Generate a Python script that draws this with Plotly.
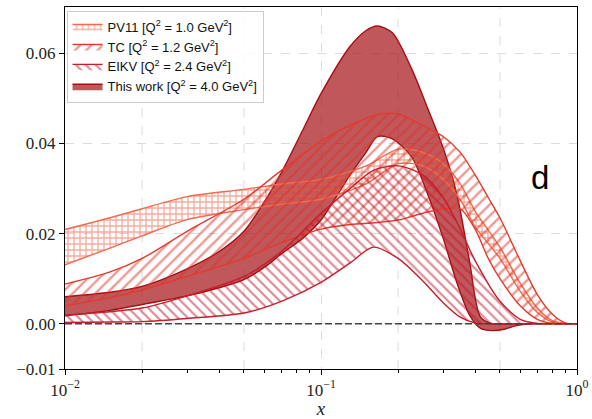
import plotly.graph_objects as go

# ---------------- data ----------------
x_pv = [0.01, 0.015, 0.02, 0.03, 0.05, 0.07, 0.1, 0.15, 0.2, 0.25, 0.3, 0.35, 0.4, 0.5, 0.6, 0.7, 0.8, 0.9, 1.0]
pv_lo = [0.0131, 0.0168, 0.0195, 0.0231, 0.0253, 0.0265, 0.0276, 0.0310, 0.0355, 0.0350, 0.0320, 0.0275, 0.0215, 0.0145, 0.0072, 0.0025, 0.0004, 0.0, 0.0]
pv_hi = [0.0209, 0.0235, 0.0255, 0.0282, 0.0298, 0.0310, 0.0320, 0.0350, 0.0387, 0.0380, 0.0355, 0.0310, 0.0250, 0.0170, 0.0090, 0.0035, 0.0007, 0.0001, 0.0]

x_tc = [0.01, 0.015, 0.02, 0.03, 0.05, 0.07, 0.1, 0.13, 0.17, 0.2, 0.25, 0.3, 0.35, 0.4, 0.45, 0.5, 0.6, 0.7, 0.8, 0.9, 1.0]
tc_lo = [0.0040, 0.0058, 0.0075, 0.0105, 0.0145, 0.0180, 0.0210, 0.0220, 0.0225, 0.0230, 0.0245, 0.0255, 0.0255, 0.0210, 0.0145, 0.0100, 0.0040, 0.0010, 0.0001, 0.0, 0.0]
tc_hi = [0.0088, 0.0115, 0.0145, 0.0205, 0.0276, 0.0340, 0.0405, 0.0440, 0.0465, 0.0465, 0.0440, 0.0415, 0.0380, 0.0330, 0.0280, 0.0235, 0.0140, 0.0065, 0.0022, 0.0002, 0.0]

x_ei = [0.01, 0.015, 0.02, 0.03, 0.05, 0.07, 0.1, 0.13, 0.16, 0.2, 0.25, 0.3, 0.35, 0.4, 0.5, 0.6, 0.7, 0.8, 1.0]
ei_lo = [0.0003, 0.0004, 0.0005, 0.0012, 0.0024, 0.0050, 0.0092, 0.0135, 0.0170, 0.0145, 0.0095, 0.0047, 0.0015, 0.0002, 0.0, 0.0, 0.0, 0.0, 0.0]
ei_hi = [0.0020, 0.0027, 0.0035, 0.0062, 0.0105, 0.0160, 0.0245, 0.0300, 0.0340, 0.0350, 0.0330, 0.0280, 0.0210, 0.0140, 0.0050, 0.0010, 0.0001, 0.0, 0.0]

x_tw = [0.01, 0.015, 0.02, 0.03, 0.04, 0.05, 0.06, 0.07, 0.085, 0.1, 0.13, 0.15, 0.166, 0.19, 0.226, 0.26, 0.3, 0.34, 0.38, 0.42, 0.47, 0.52, 0.58, 0.65, 1.0]
tw_lo = [0.0018, 0.0030, 0.0043, 0.0062, 0.0080, 0.0098, 0.0125, 0.0155, 0.0190, 0.0230, 0.0330, 0.0380, 0.0415, 0.0410, 0.0370, 0.0290, 0.0190, 0.0090, 0.0020, -0.0010, -0.0015, -0.0012, -0.0004, 0.0, 0.0]
tw_hi = [0.0060, 0.0070, 0.0083, 0.0122, 0.0160, 0.0205, 0.0270, 0.0335, 0.0430, 0.0510, 0.0615, 0.0650, 0.0660, 0.0645, 0.0565, 0.0480, 0.0390, 0.0285, 0.0140, 0.0015, 0.0, 0.0, 0.0, 0.0, 0.0]

labels = [
    "PV11 [Q<sup>2</sup> = 1.0 GeV<sup>2</sup>]",
    "TC [Q<sup>2</sup> = 1.2 GeV<sup>2</sup>]",
    "EIKV [Q<sup>2</sup> = 2.4 GeV<sup>2</sup>]",
    "This work [Q<sup>2</sup> = 4.0 GeV<sup>2</sup>]",
]
colors = ["#f4694f", "#e23b2e", "#c41f2b", "#a50f15"]
hatch_colors = ["#ee5a3c", "#de3226", "#c0162a"]

y_ticks = [-0.01, 0.0, 0.02, 0.04, 0.06]
y_ticktext = ["\u22120.01", "0.00", "0.02", "0.04", "0.06"]
x_ticks = [0.01, 0.1, 1.0]
x_ticktext = ["10<sup>\u22122</sup>", "10<sup>\u22121</sup>", "10<sup>0</sup>"]
x_minor = [0.02, 0.03, 0.04, 0.05, 0.06, 0.07, 0.08, 0.09, 0.2, 0.3, 0.4, 0.5, 0.6, 0.7, 0.8, 0.9]
x_grid = [0.02, 0.05, 0.2, 0.5]

fig = go.Figure()


def band(xs, lo, hi, name, color, rank, pattern=None, fill=None):
    kw = {}
    if pattern is not None:
        kw["fillpattern"] = pattern
        kw["fillcolor"] = "rgba(0,0,0,0)"
    else:
        kw["fillcolor"] = fill
    fig.add_trace(go.Scatter(
        x=list(xs) + list(xs)[::-1],
        y=list(hi) + list(lo)[::-1],
        mode="lines",
        fill="toself",
        line=dict(color=color, width=1.4, shape="spline", smoothing=0.8),
        name=name,
        legendrank=rank,
        hoverinfo="skip",
        **kw,
    ))


band(x_tw, tw_lo, tw_hi, labels[3], colors[3], 4, fill="rgba(165,15,21,0.70)")
band(x_pv, pv_lo, pv_hi, labels[0], colors[0], 1,
     pattern=dict(shape="+", fgcolor=hatch_colors[0], bgcolor="rgba(0,0,0,0)", size=6, solidity=0.4))
band(x_tc, tc_lo, tc_hi, labels[1], colors[1], 2,
     pattern=dict(shape="/", fgcolor=hatch_colors[1], bgcolor="rgba(0,0,0,0)", size=8, solidity=0.3))
band(x_ei, ei_lo, ei_hi, labels[2], colors[2], 3,
     pattern=dict(shape="\\", fgcolor=hatch_colors[2], bgcolor="rgba(0,0,0,0)", size=7, solidity=0.32))

for gx in x_grid:
    fig.add_vline(x=gx, line=dict(color="#dcdcdc", dash="dash", width=1), layer="below")

fig.add_hline(y=0, line=dict(color="#444444", dash="7px,3px", width=1.5), layer="above")

fig.add_annotation(text="d", xref="paper", yref="paper", x=0.928, y=0.528,
                   xanchor="center", yanchor="middle",
                   showarrow=False, font=dict(family="Liberation Sans", size=33, color="black"))

axis_font = dict(family="Liberation Serif", size=17, color="#222222")
fig.update_layout(
    width=592, height=419,
    margin=dict(l=65, r=15, t=7, b=50),
    paper_bgcolor="white", plot_bgcolor="white",
    showlegend=True,
    legend=dict(x=0.003, y=0.99, xanchor="left", yanchor="top",
                bgcolor="rgba(255,255,255,0.85)", bordercolor="#cccccc", borderwidth=1,
                font=dict(family="Liberation Sans", size=13, color="#111111"),
                tracegroupgap=0, itemwidth=30),
    xaxis=dict(type="log", range=[-2, 0], tickmode="array", tickvals=x_ticks, ticktext=x_ticktext,
               ticks="outside", ticklen=5, tickcolor="black", showline=True, linecolor="black",
               linewidth=1.2, mirror=True, showgrid=True, gridcolor="#dcdcdc", griddash="dash",
               gridwidth=1, zeroline=False, tickfont=axis_font, automargin=False,
               minor=dict(tickmode="array", tickvals=x_minor, ticks="outside", ticklen=3,
                          tickcolor="black", showgrid=False),
               title=dict(text="<i>x</i>", font=dict(family="Liberation Serif", size=19, color="#222222"),
                          standoff=2)),
    yaxis=dict(range=[-0.01, 0.0702], tickmode="array", tickvals=y_ticks, ticktext=y_ticktext,
               ticks="outside", ticklen=5, tickcolor="black", showline=True, linecolor="black",
               linewidth=1.2, mirror=True, showgrid=True, gridcolor="#dcdcdc", griddash="dash",
               gridwidth=1, zeroline=False, tickfont=axis_font, automargin=False),
)

fig.write_html("out.html", config={"displayModeBar": False},
               post_script="document.body.style.margin='0';")
